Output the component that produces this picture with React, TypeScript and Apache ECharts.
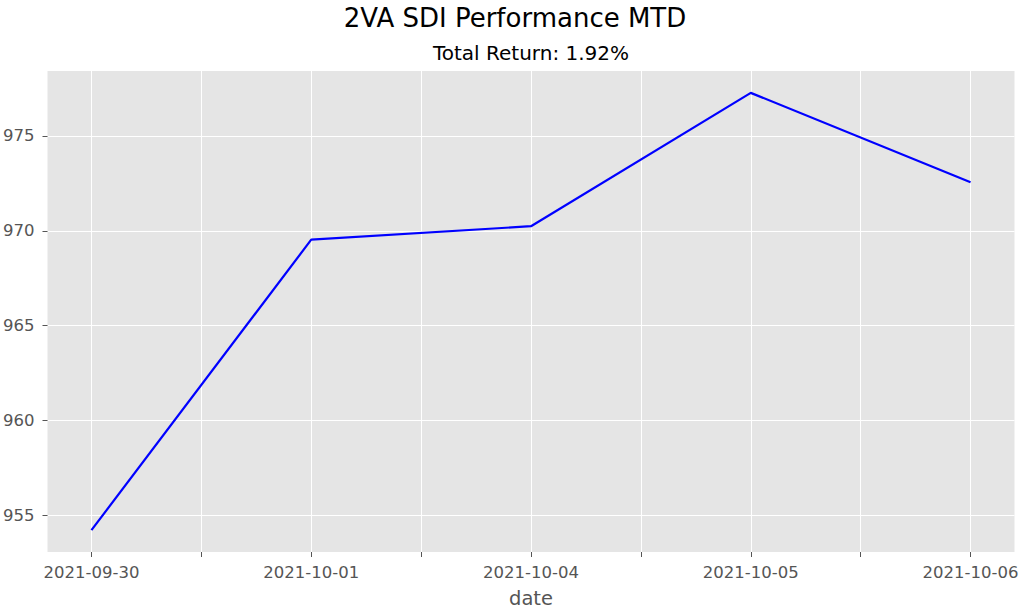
import React, { useEffect, useRef } from "react";
import * as echarts from "echarts";

const dates = ["2021-09-30", "2021-10-01", "2021-10-04", "2021-10-05", "2021-10-06"];
const values = [954.24, 969.53, 970.24, 977.26, 972.55];
const yTicks = [955, 960, 965, 970, 975];
const xTickPositions = [0, 0.5, 1, 1.5, 2, 2.5, 3, 3.5, 4];
const xLabelPositions = [0, 1, 2, 3, 4];
const titleText = "2VA SDI Performance MTD";
const subtitleText = "Total Return: 1.92%";
const xName = "date";

const FONT = "DejaVu Sans";

export default function App() {
  const ref = useRef<HTMLDivElement>(null);
  useEffect(() => {
    if (!ref.current) return;
    const chart = echarts.init(ref.current, undefined, { renderer: "svg" });
    const seriesData = values.map((v, i) => [i, v]);
    const vMin = Math.min(...values);
    const vMax = Math.max(...values);
    const pad = (vMax - vMin) * 0.05;
    chart.setOption({
      animation: false,
      backgroundColor: "#ffffff",
      textStyle: { fontFamily: FONT },
      graphic: [
        {
          type: "text",
          x: 515,
          y: 18,
          style: {
            text: titleText,
            font: `26px '${FONT}'`,
            fill: "#000000",
            textAlign: "center",
            textVerticalAlign: "middle",
          },
        },
        {
          type: "text",
          x: 531,
          y: 53,
          style: {
            text: subtitleText,
            font: `20px '${FONT}'`,
            fill: "#000000",
            textAlign: "center",
            textVerticalAlign: "middle",
          },
        },
      ],
      grid: {
        left: 47.5,
        right: 6.5,
        top: 71,
        bottom: 56,
        show: true,
        backgroundColor: "#E5E5E5",
        borderWidth: 0,
        containLabel: false,
        outerBoundsMode: "none",
      },
      xAxis: {
        type: "value",
        min: -0.2,
        max: 4.2,
        position: "bottom",
        name: xName,
        nameLocation: "middle",
        nameGap: 36,
        nameTextStyle: { fontFamily: FONT, fontSize: 19.5, color: "#555555" },
        axisLine: { show: false, onZero: false },
        axisTick: {
          show: true,
          length: 5,
          customValues: xTickPositions,
          lineStyle: { color: "#555555", width: 1 },
        },
        axisLabel: {
          customValues: xLabelPositions,
          formatter: (v: number) => dates[Math.round(v)] ?? "",
          fontFamily: FONT,
          fontSize: 16.5,
          color: "#555555",
          margin: 12,
        },
        splitLine: { show: true, lineStyle: { color: "#ffffff", width: 1 } },
      },
      yAxis: {
        type: "value",
        min: vMin - pad,
        max: vMax + pad,
        position: "left",
        axisLine: { show: false, onZero: false },
        axisTick: {
          show: true,
          length: 5,
          customValues: yTicks,
          lineStyle: { color: "#555555", width: 1 },
        },
        axisLabel: {
          customValues: yTicks,
          fontFamily: FONT,
          fontSize: 16.5,
          color: "#555555",
          margin: 13,
        },
        splitLine: { show: true, lineStyle: { color: "#ffffff", width: 1 } },
      },
      series: [
        {
          type: "line",
          data: seriesData,
          showSymbol: false,
          symbol: "none",
          lineStyle: { color: "#0000FF", width: 2.2 },
          z: 3,
        },
      ],
    });
    return () => chart.dispose();
  }, []);
  return (
    <div
      ref={ref}
      style={{ position: "absolute", left: 0, top: 0, width: 1021, height: 608 }}
    />
  );
}
